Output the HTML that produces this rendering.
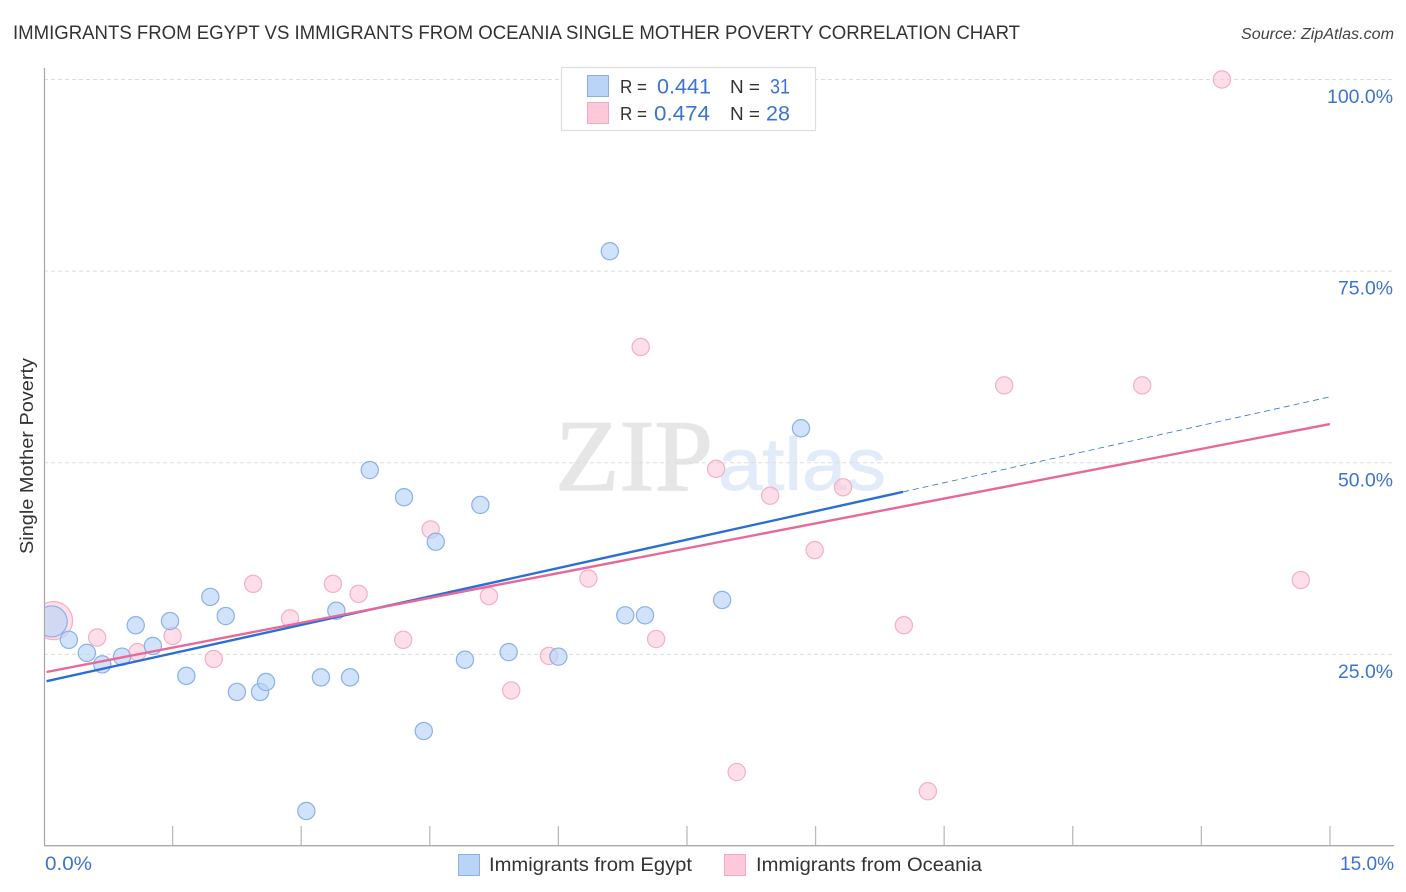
<!DOCTYPE html>
<html>
<head>
<meta charset="utf-8">
<style>
html,body{margin:0;padding:0;background:#fff;width:1406px;height:892px;overflow:hidden}
svg{display:block}
text{font-family:"Liberation Sans",sans-serif}
</style>
</head>
<body>
<svg id="chart" width="1406" height="892" viewBox="0 0 1406 892" xmlns="http://www.w3.org/2000/svg">
  <defs><clipPath id="plot-clip"><rect x="45" y="60" width="1349" height="786"/></clipPath></defs>
  <text x="13" y="39" font-size="19.5" fill="#333" textLength="1007" lengthAdjust="spacingAndGlyphs">IMMIGRANTS FROM EGYPT VS IMMIGRANTS FROM OCEANIA SINGLE MOTHER POVERTY CORRELATION CHART</text>
  <text x="1241" y="39" font-size="15.5" font-style="italic" fill="#444" textLength="153" lengthAdjust="spacingAndGlyphs">Source: ZipAtlas.com</text>
  <text x="555" y="490" font-size="102" fill="#e6e6e6" stroke="#e6e6e6" stroke-width="1.2" textLength="158" lengthAdjust="spacingAndGlyphs" style="font-family:'Liberation Serif',serif">ZIP</text>
  <text x="718" y="490" font-size="74" fill="#e2ebf9" stroke="#e2ebf9" stroke-width="0.8" textLength="168" lengthAdjust="spacingAndGlyphs">atlas</text>
  <g id="grid"></g>
  <g id="ylabels"></g>
  <g id="xticks"></g>
  <line x1="44.5" y1="68" x2="44.5" y2="846" stroke="#aaa" stroke-width="1.3"/>
  <line x1="44" y1="845.7" x2="1394" y2="845.7" stroke="#aaa" stroke-width="1.3"/>
  <g id="points" clip-path="url(#plot-clip)"></g>
  <g id="trends"></g>
  <text transform="translate(33,456) rotate(-90)" text-anchor="middle" font-size="18.5" fill="#333" textLength="196" lengthAdjust="spacingAndGlyphs">Single Mother Poverty</text>
  <text x="45" y="870" font-size="19" fill="#3b74d0" textLength="47" lengthAdjust="spacingAndGlyphs">0.0%</text>
  <text x="1340" y="870" font-size="19" fill="#3b74d0" textLength="54" lengthAdjust="spacingAndGlyphs">15.0%</text>

  <g>
    <rect x="561.5" y="67.5" width="254" height="63" fill="#fff" stroke="#ddd" stroke-width="1.2"/>
    <rect x="587.5" y="75.5" width="21" height="21" fill="#b9d4f7" stroke="#8ab0e6"/>
    <rect x="587.5" y="102.5" width="21" height="21" fill="#fdc8d8" stroke="#f3a9c0"/>
    <text x="620" y="93" font-size="18.5" fill="#333" textLength="27" lengthAdjust="spacingAndGlyphs">R =</text>
    <text x="657" y="93.5" font-size="21" fill="#3b74d0" textLength="54" lengthAdjust="spacingAndGlyphs">0.441</text>
    <text x="730" y="93" font-size="18.5" fill="#333" textLength="30" lengthAdjust="spacingAndGlyphs">N =</text>
    <text x="770" y="93.5" font-size="21" fill="#3b74d0" textLength="20" lengthAdjust="spacingAndGlyphs">31</text>
    <text x="620" y="120" font-size="18.5" fill="#333" textLength="27" lengthAdjust="spacingAndGlyphs">R =</text>
    <text x="654" y="120.5" font-size="21" fill="#3b74d0" textLength="56" lengthAdjust="spacingAndGlyphs">0.474</text>
    <text x="730" y="120" font-size="18.5" fill="#333" textLength="30" lengthAdjust="spacingAndGlyphs">N =</text>
    <text x="766" y="120.5" font-size="21" fill="#3b74d0" textLength="24" lengthAdjust="spacingAndGlyphs">28</text>
  </g>

  <g>
    <rect x="458.5" y="854.5" width="21" height="21" fill="#b9d4f7" stroke="#8ab0e6"/>
    <text x="489" y="871" font-size="19" fill="#333" textLength="203" lengthAdjust="spacingAndGlyphs">Immigrants from Egypt</text>
    <rect x="724.5" y="854.5" width="21" height="21" fill="#fdc8d8" stroke="#f3a9c0"/>
    <text x="756" y="871" font-size="19" fill="#333" textLength="226" lengthAdjust="spacingAndGlyphs">Immigrants from Oceania</text>
  </g>
</svg>
<script>
const xTickValues = [0, 1.5, 3, 4.5, 6, 7.5, 9, 10.5, 12, 13.5, 15];
const yTickValues = [25, 50, 75, 100];
const yTickLabels = ["25.0%", "50.0%", "75.0%", "100.0%"];

const egyptX = [0.09, 0.29, 0.50, 0.68, 0.91, 1.07, 1.27, 1.47, 1.66, 1.94, 2.12, 2.25, 2.52, 2.59, 3.06, 3.23, 3.41, 3.57, 3.80, 4.20, 4.43, 4.57, 4.91, 5.09, 5.42, 6.00, 6.60, 6.78, 7.01, 7.91, 8.83];
const egyptY = [29.3, 26.9, 25.2, 23.7, 24.7, 28.8, 26.1, 29.35, 22.2, 32.5, 30.0, 20.1, 20.1, 21.4, 4.57, 22.0, 30.7, 22.0, 49.05, 45.5, 15.0, 39.7, 24.3, 44.5, 25.3, 24.7, 77.6, 30.1, 30.1, 32.1, 54.5];

const oceaniaX = [0.10, 0.62, 1.09, 1.50, 1.98, 2.44, 2.87, 3.37, 3.67, 4.19, 4.51, 5.19, 5.45, 5.89, 6.35, 6.96, 7.14, 7.84, 8.08, 8.47, 8.99, 9.32, 10.03, 10.31, 11.20, 12.81, 13.74, 14.66];
const oceaniaY = [29.4, 27.2, 25.3, 27.4, 24.4, 34.2, 29.7, 34.2, 32.9, 26.9, 41.3, 32.6, 20.3, 24.8, 34.9, 65.1, 27.0, 49.2, 9.65, 45.7, 38.6, 46.8, 28.8, 7.15, 60.1, 60.1, 100, 34.7];

const egyptTrendX = [0.03, 10.02];
const egyptTrendY = [21.5, 46.2];
const egyptExtensionX = [10.02, 15];
const egyptExtensionY = [46.2, 58.6];
const oceaniaTrendX = [0.03, 15];
const oceaniaTrendY = [22.7, 55.05];

const NS = 'http://www.w3.org/2000/svg';
const xScale = v => 44 + v * 85.73;
const yScale = v => 846 - v * 7.665;

const gridG = document.getElementById('grid');
const yLabelG = document.getElementById('ylabels');
yTickValues.forEach((v, i) => {
  const l = document.createElementNS(NS, 'line');
  
  
  l.setAttribute('x1', 44);
  l.setAttribute('x2', 1393);
  l.setAttribute('y1', yScale(v));
  l.setAttribute('y2', yScale(v));
  l.setAttribute('stroke', '#ddd');
  l.setAttribute('stroke-width', '1');
  l.setAttribute('stroke-dasharray', '4 3');
  gridG.appendChild(l);
  const t = document.createElementNS(NS, 'text');
  
  
  const w = yTickLabels[i].length === 6 ? 66 : 55;
  t.setAttribute('x', 1393 - w);
  t.setAttribute('y', yScale(v) + 23.5);
  t.setAttribute('font-size', '19');
  t.setAttribute('fill', '#3b74d0');
  t.setAttribute('textLength', w);
  t.setAttribute('lengthAdjust', 'spacingAndGlyphs');
  t.textContent = yTickLabels[i];
  yLabelG.appendChild(t);
});

const xTickG = document.getElementById('xticks');
xTickValues.slice(1).forEach(v => {
  const l = document.createElementNS(NS, 'line');
  
  
  l.setAttribute('x1', xScale(v));
  l.setAttribute('x2', xScale(v));
  l.setAttribute('y1', 826);
  l.setAttribute('y2', 846);
  l.setAttribute('stroke', '#bbb');
  l.setAttribute('stroke-width', '1.3');
  xTickG.appendChild(l);
});

const pointG = document.getElementById('points');
function drawPoints(xs, ys, fill, stroke, bigR, bigDx, name, opacity) {
  xs.forEach((x, i) => {
    const c = document.createElementNS(NS, 'circle');
    
    
    c.setAttribute('cx', xScale(x) + (i === 0 ? bigDx : 0));
    c.setAttribute('cy', yScale(ys[i]));
    c.setAttribute('r', i === 0 ? bigR : 8.6);
    c.setAttribute('fill', fill);
    c.setAttribute('fill-opacity', opacity);
    c.setAttribute('stroke', stroke);
    c.setAttribute('stroke-width', '1.2');
    pointG.appendChild(c);
  });
}
drawPoints(oceaniaX, oceaniaY, '#fdc8d8', '#f3b0c6', 19, 1, 'oceania-point', '0.6');
drawPoints(egyptX, egyptY, '#b9d4f7', '#8ab0e6', 15.5, 0, 'egypt-point', '0.65');

const trendG = document.getElementById('trends');
function drawTrend(xs, ys, stroke, width, dash, name) {
  const l = document.createElementNS(NS, 'line');
  
  
  l.setAttribute('x1', xScale(xs[0]));
  l.setAttribute('y1', yScale(ys[0]));
  l.setAttribute('x2', xScale(xs[1]));
  l.setAttribute('y2', yScale(ys[1]));
  l.setAttribute('stroke', stroke);
  l.setAttribute('stroke-width', width);
  if (dash) l.setAttribute('stroke-dasharray', dash);
  trendG.appendChild(l);
}
drawTrend(egyptExtensionX, egyptExtensionY, '#2a6fd6', 0.8, '6 4', 'egypt-trend-extension');
drawTrend(egyptTrendX, egyptTrendY, '#2a6fd6', 2.4, null, 'egypt-trend-line');
drawTrend(oceaniaTrendX, oceaniaTrendY, '#e9689a', 2.4, null, 'oceania-trend-line');
</script>
</body>
</html>
